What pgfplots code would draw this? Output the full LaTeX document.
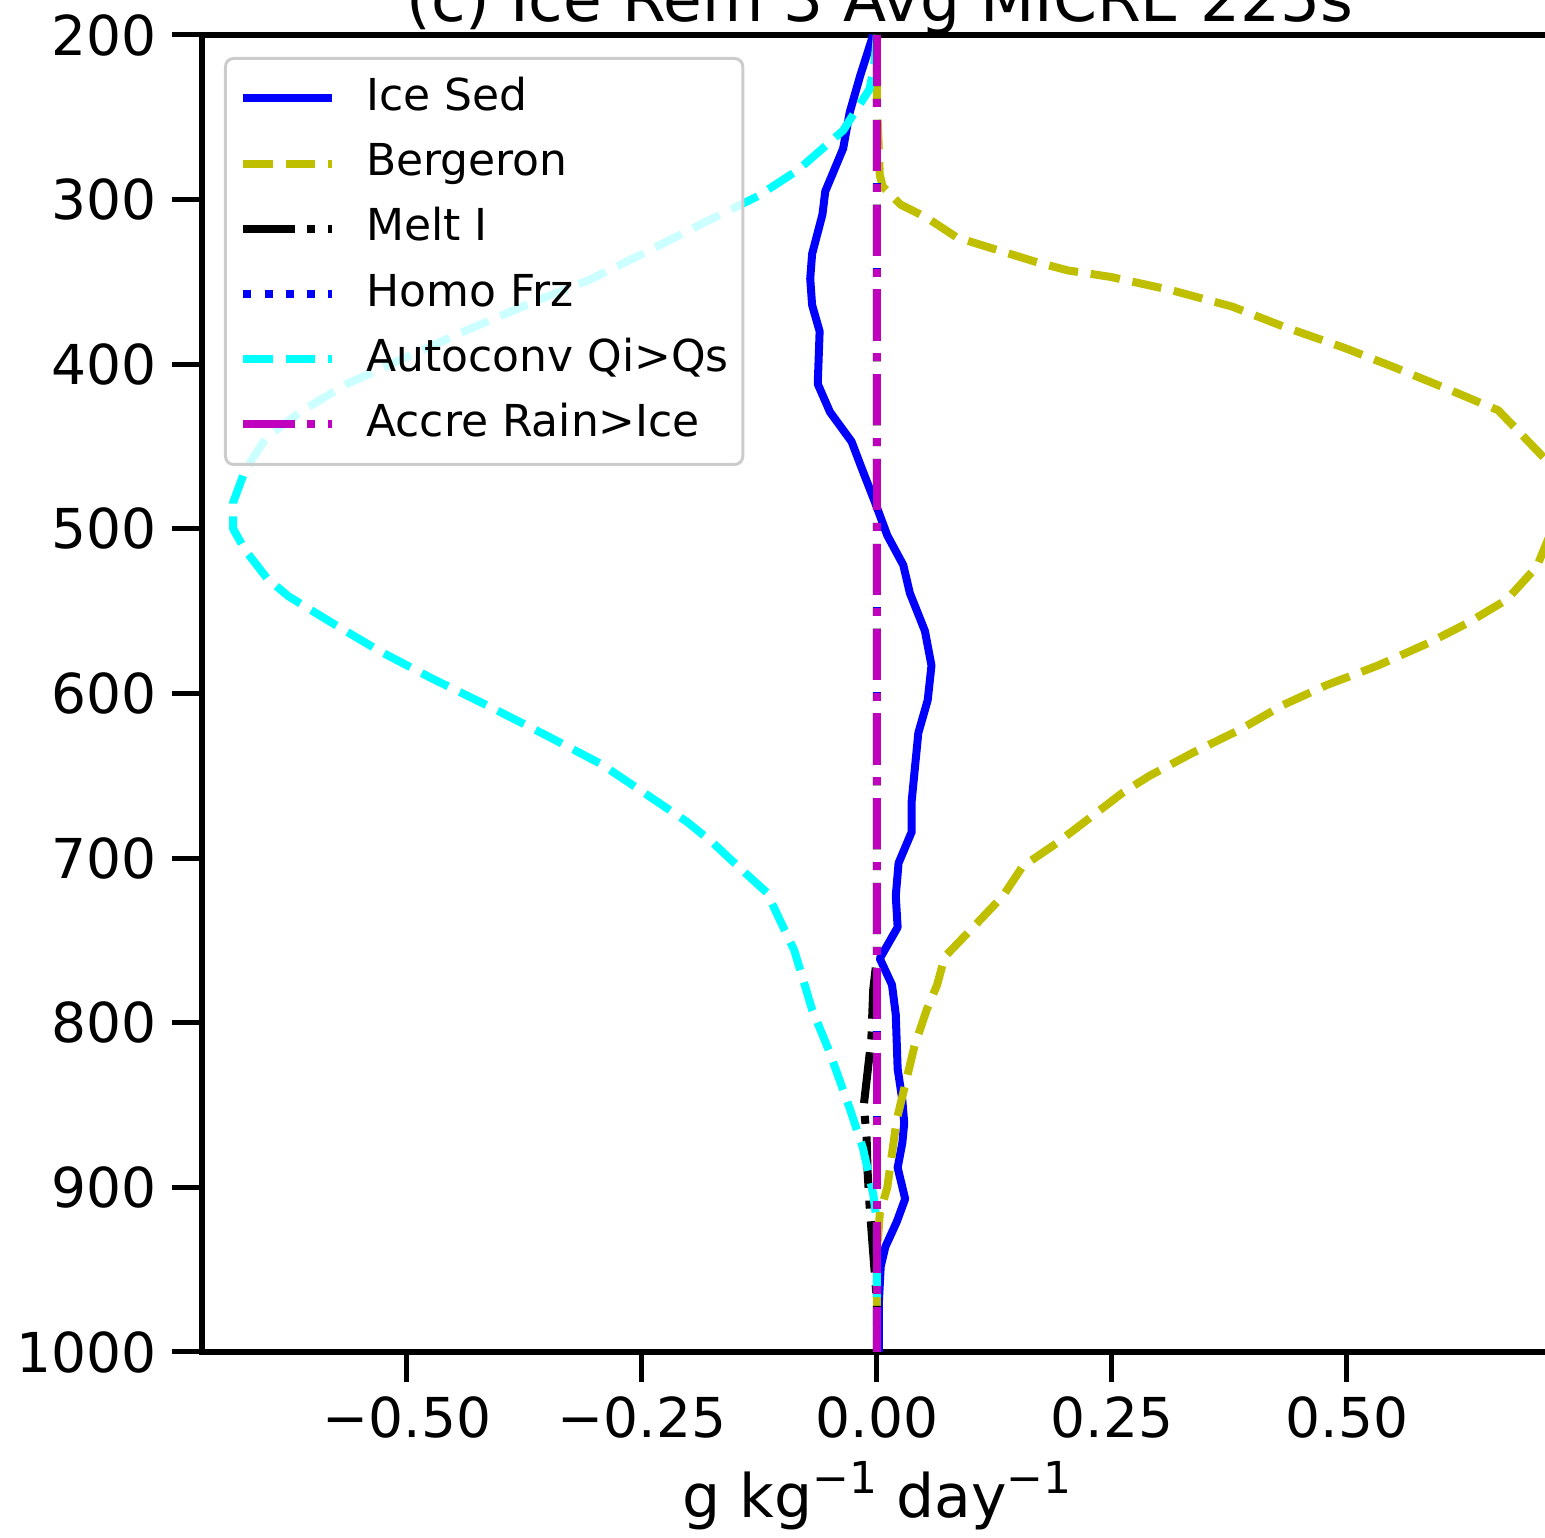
\documentclass[border=0pt]{standalone}
\usepackage{pgfplots}
\pgfplotsset{compat=1.18}
\usepackage{fontspec}
\setmainfont{DejaVu Sans}
\definecolor{mply}{rgb}{0.75,0.75,0}
\definecolor{mplm}{rgb}{0.75,0,0.75}
\definecolor{mplc}{rgb}{0,1,1}

\pgfplotstableread{
x y
-0.004 200
-0.018 225
-0.029 247
-0.036 269
-0.055 295
-0.058 309
-0.069 333
-0.071 348
-0.069 364
-0.061 380
-0.063 412
-0.050 429
-0.027 447
-0.015 465
-0.002 484
0.011 504
0.028 522
0.035 539
0.051 562
0.058 583
0.054 604
0.044 624
0.037 665
0.037 684
0.023 703
0.020 723
0.022 742
0.003 761
0.016 777
0.020 795
0.022 828
0.027 847
0.029 861
0.027 873
0.022 888
0.030 907
0.021 921
0.009 936
0.004 948
0.002 970
0.002 1000
}\icesed

\pgfplotstableread{
x y
0.000 200
0.000 240
0.003 285
0.006 292
0.025 303
0.053 311
0.085 323
0.170 338
0.203 343
0.249 347
0.313 355
0.378 365
0.432 377
0.497 390
0.551 402
0.611 416
0.661 428
0.688 444
0.715 460
0.735 475
0.742 490
0.715 505
0.702 523
0.670 543
0.629 557
0.588 569
0.533 583
0.478 595
0.432 607
0.386 622
0.336 636
0.290 650
0.262 660
0.230 674
0.191 691
0.155 705
0.134 723
0.099 744
0.072 760
0.064 777
0.053 792
0.040 814
0.021 859
0.011 900
0.003 916
0.000 940
0.000 1000
}\berg

\pgfplotstableread{
x y
0.000 200
0.000 760
-0.004 780
-0.006 810
-0.010 830
-0.014 850
-0.011 870
-0.010 890
-0.008 910
-0.004 940
0.000 970
0.000 1000
}\melt

\pgfplotstableread{
x y
0.000 200
0.000 1000
}\homo

\pgfplotstableread{
x y
0.000 200
-0.003 219
-0.008 233
-0.036 258
-0.084 282
-0.127 298
-0.184 314
-0.246 332
-0.307 349
-0.369 363
-0.435 379
-0.502 396
-0.564 412
-0.611 428
-0.649 444
-0.672 464
-0.685 484
-0.685 500
-0.672 513
-0.649 530
-0.626 541
-0.583 556
-0.530 574
-0.473 591
-0.412 608
-0.350 626
-0.293 643
-0.246 661
-0.202 678
-0.174 691
-0.146 706
-0.117 721
-0.103 738
-0.088 756
-0.079 773
-0.069 792
-0.051 817
-0.029 852
-0.015 876
-0.004 904
0.000 922
0.000 1000
}\autoconv

\pgfplotstableread{
x y
0.000 200
0.000 1000
}\accre

\pgfplotsset{
  legend image code/.code={\draw[#1, opacity=1] (0pt,0pt) -- (22.2pt,0pt); \path (29.7pt,0pt);},
}
\newcommand{\sups}[1]{\raisebox{6pt}{\fontsize{11}{12}\selectfont #1}}

\begin{document}
\begin{tikzpicture}
\useasboundingbox (-50.5pt,-46.5pt) rectangle (335.75pt,338pt);
\clip (-50.5pt,-46.5pt) rectangle (335.75pt,338pt);
\begin{axis}[
  at={(0pt,0pt)}, anchor=south west,
  scale only axis, width=339.1pt, height=329.25pt,
  xmin=-0.7181, xmax=0.725, ymin=200, ymax=1000, y dir=reverse,
  axis line style={line width=1.5pt},
  tick align=outside, major tick length=7.5pt,
  every tick/.style={black, line width=1.25pt},
  xtick pos=bottom, ytick pos=left,
  xtick={-0.5,-0.25,0,0.25,0.5},
  xticklabels={−0.50,−0.25,0.00,0.25,0.50},
  ytick={200,300,...,1000},
  yticklabels={200,300,400,500,600,700,800,900,1000},
  xticklabel style={anchor=base, inner sep=0pt, yshift=-14pt, font=\fontsize{13.75}{16}\selectfont},
  yticklabel style={anchor=east, inner sep=0pt, xshift=-3.75pt, font=\fontsize{13.75}{16}\selectfont},
  title={(c) Ice Rem 3 Avg MICRE 225s},
  title style={at={(axis description cs:0.5,1)}, anchor=base, inner sep=0pt, yshift=-2.75pt, font=\fontsize{15.75}{18}\selectfont},
  xlabel={g kg\sups{−1} day\sups{−1}},
  xlabel style={at={(axis description cs:0.4976,-0.1253)}, anchor=base, inner sep=0pt, font=\fontsize{15}{18}\selectfont},
  legend cell align=left,
  legend style={at={(0,1)}, anchor=north west, xshift=5.5pt, yshift=-5.5pt,
    draw=black!20, line width=0.75pt, rounded corners=2pt,
    fill=white, fill opacity=0.8, text opacity=1,
    font=\fontsize{11}{13}\selectfont,
    inner xsep=3.5pt, inner ysep=5pt, row sep=6.3pt,
    nodes={inner sep=0pt, text height=8pt, text depth=2pt, text opacity=1}},
  every axis plot/.append style={line width=2pt, line join=round},
]
\addplot[blue] table[x=x,y=y] {\icesed};
\addlegendentry{Ice Sed}
\addplot[mply, dash pattern=on 7.4pt off 3.2pt] table[x=x,y=y] {\berg};
\addlegendentry{Bergeron}
\addplot[black, dash pattern=on 12.8pt off 3.2pt on 2pt off 3.2pt] table[x=x,y=y] {\melt};
\addlegendentry{Melt I}
\addplot[blue, dash pattern=on 2pt off 3.3pt] table[x=x,y=y] {\homo};
\addlegendentry{Homo Frz}
\addplot[mplc, dash pattern=on 7.4pt off 3.2pt] table[x=x,y=y] {\autoconv};
\addlegendentry{Autoconv Qi>Qs}
\addplot[mplm, dash pattern=on 12.8pt off 3.2pt on 2pt off 3.2pt] table[x=x,y=y] {\accre};
\addlegendentry{Accre Rain>Ice}
\end{axis}
\end{tikzpicture}
\end{document}
